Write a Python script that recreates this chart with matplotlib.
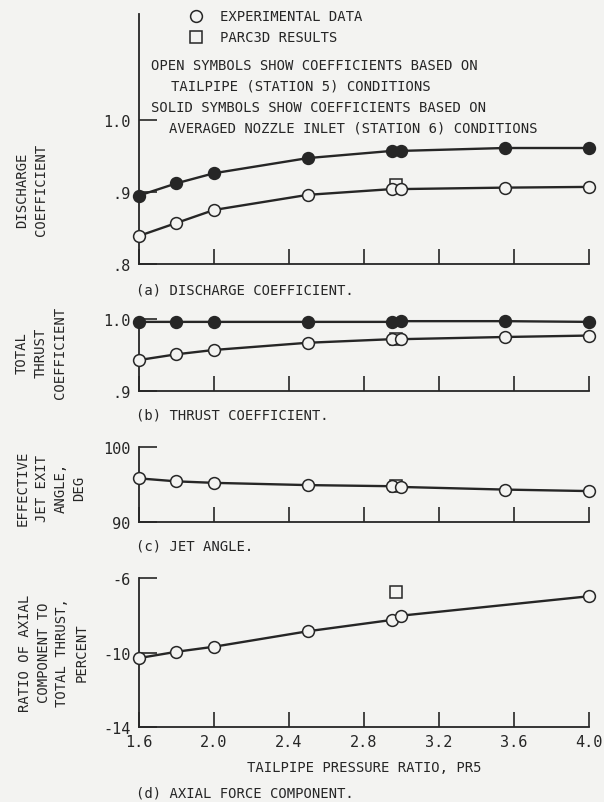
import numpy as np
import matplotlib.pyplot as plt

plt.rcParams['font.family'] = ['DejaVu Sans Mono']
plt.rcParams['font.size'] = 10
plt.rcParams['axes.unicode_minus'] = False

BG = '#f3f3f1'
INK = '#262626'

# tailpipe pressure ratio of each test point
pr5 = [1.6, 1.8, 2.0, 2.5, 2.95, 3.0, 3.55, 4.0]

# (a) discharge coefficient
cd_open = [0.839, 0.857, 0.875, 0.896, 0.904, 0.904, 0.906, 0.907]
cd_solid = [0.895, 0.912, 0.926, 0.947, 0.957, 0.957, 0.961, 0.961]
# (b) total thrust coefficient
cf_open = [0.943, 0.951, 0.957, 0.967, 0.972, 0.972, 0.975, 0.977]
cf_solid = [0.996, 0.996, 0.996, 0.996, 0.996, 0.997, 0.997, 0.996]
# (c) effective jet exit angle, deg
angle = [95.8, 95.4, 95.2, 94.9, 94.75, 94.65, 94.3, 94.1]
# (d) ratio of axial component to total thrust, percent
axial = [-10.3, -9.96, -9.69, -8.86, -8.25, -8.02, -6.98]
axial_pr = [1.6, 1.8, 2.0, 2.5, 2.95, 3.0, 4.0]

# PARC3D results
parc_pr = 2.97
parc_cd = 0.909
parc_cf = 0.972
parc_angle = 94.8
parc_axial = -6.74

xticks = [1.6, 2.0, 2.4, 2.8, 3.2, 3.6, 4.0]

fig = plt.figure(figsize=(6.04, 8.03), dpi=100, facecolor=BG)
W, H = 604.0, 803.0
L, R = 139, 589


def make_ax(top, bottom):
    ax = fig.add_axes([L / W, 1 - bottom / H, (R - L) / W, (bottom - top) / H])
    ax.set_facecolor(BG)
    for s in ['top', 'right']:
        ax.spines[s].set_visible(False)
    for s in ['left', 'bottom']:
        ax.spines[s].set_color(INK)
        ax.spines[s].set_linewidth(1.3)
    ax.set_xlim(1.6, 4.0)
    ax.set_xticks(xticks)
    ax.tick_params(direction='in', length=11, width=1.2, color=INK,
                   labelcolor=INK, labelsize=11, pad=5)
    ax.tick_params(axis='y', length=13, pad=6)
    return ax


def curve(ax, x, y, filled):
    fc = INK if filled else BG
    ax.plot(x, y, '-', color=INK, lw=1.7, marker='o', ms=8.5,
            mfc=fc, mec=INK, mew=1.1, clip_on=False, zorder=3)


def square(ax, x, y):
    ax.plot([x], [y], 's', ms=8, mfc=BG, mec=INK, mew=1.1,
            clip_on=False, zorder=2)


# (a)
ax = make_ax(15, 265)
ax.set_ylim(0.8, 1.147)
ax.set_yticks([0.8, 0.9, 1.0])
ax.set_yticklabels(['.8', '.9', '1.0'])
ax.set_xticklabels([])
square(ax, parc_pr, parc_cd)
curve(ax, pr5, cd_open, False)
curve(ax, pr5, cd_solid, True)
fig.text(32 / W, 1 - 190 / H, 'DISCHARGE\nCOEFFICIENT', rotation=90,
         ha='center', va='center', color=INK, linespacing=1.45)
fig.text(136 / W, 1 - 290 / H, '(a) DISCHARGE COEFFICIENT.', ha='left',
         va='center', color=INK)

fig.lines.append(plt.Line2D([196 / W], [1 - 17 / H], marker='o', ms=8.5,
                            mfc=BG, mec=INK, mew=1.1, transform=fig.transFigure))
fig.lines.append(plt.Line2D([196 / W], [1 - 38 / H], marker='s', ms=8,
                            mfc=BG, mec=INK, mew=1.1, transform=fig.transFigure))
fig.text(220 / W, 1 - 17 / H, 'EXPERIMENTAL DATA', va='center', color=INK)
fig.text(220 / W, 1 - 38 / H, 'PARC3D RESULTS', va='center', color=INK)
fig.text(151 / W, 1 - 66 / H, 'OPEN SYMBOLS SHOW COEFFICIENTS BASED ON',
         va='center', color=INK)
fig.text(171 / W, 1 - 87 / H, 'TAILPIPE (STATION 5) CONDITIONS',
         va='center', color=INK)
fig.text(151 / W, 1 - 108 / H, 'SOLID SYMBOLS SHOW COEFFICIENTS BASED ON',
         va='center', color=INK)
fig.text(169 / W, 1 - 128 / H, 'AVERAGED NOZZLE INLET (STATION 6) CONDITIONS',
         va='center', color=INK)

# (b)
ax = make_ax(320, 392)
ax.set_ylim(0.9, 1.0)
ax.set_yticks([0.9, 1.0])
ax.set_yticklabels(['.9', '1.0'])
ax.set_xticklabels([])
square(ax, parc_pr, parc_cf)
curve(ax, pr5, cf_open, False)
curve(ax, pr5, cf_solid, True)
fig.text(41 / W, 1 - 353 / H, 'TOTAL\nTHRUST\nCOEFFICIENT', rotation=90,
         ha='center', va='center', color=INK, linespacing=1.45)
fig.text(136 / W, 1 - 416 / H, '(b) THRUST COEFFICIENT.', ha='left',
         va='center', color=INK)

# (c)
ax = make_ax(448, 522.7)
ax.set_ylim(90, 100)
ax.set_yticks([90, 100])
ax.set_xticklabels([])
square(ax, parc_pr, parc_angle)
curve(ax, pr5, angle, False)
fig.text(51 / W, 1 - 488 / H, 'EFFECTIVE\nJET EXIT\nANGLE,\nDEG', rotation=90,
         ha='center', va='center', color=INK, linespacing=1.45)
fig.text(136 / W, 1 - 547 / H, '(c) JET ANGLE.', ha='left',
         va='center', color=INK)

# (d)
ax = make_ax(579, 728)
ax.set_ylim(-14, -6)
ax.set_yticks([-14, -10, -6])
ax.set_xticklabels(['1.6', '2.0', '2.4', '2.8', '3.2', '3.6', '4.0'])
square(ax, parc_pr, parc_axial)
curve(ax, axial_pr, axial, False)
ax.set_xlabel('TAILPIPE PRESSURE RATIO, PR5', color=INK, labelpad=8)
fig.text(53 / W, 1 - 653 / H, 'RATIO OF AXIAL\nCOMPONENT TO\nTOTAL THRUST,\nPERCENT',
         rotation=90, ha='center', va='center', color=INK, linespacing=1.45)
fig.text(136 / W, 1 - 794 / H, '(d) AXIAL FORCE COMPONENT.', ha='left',
         va='center', color=INK)

fig.savefig('out.png', dpi=100, facecolor=BG)
